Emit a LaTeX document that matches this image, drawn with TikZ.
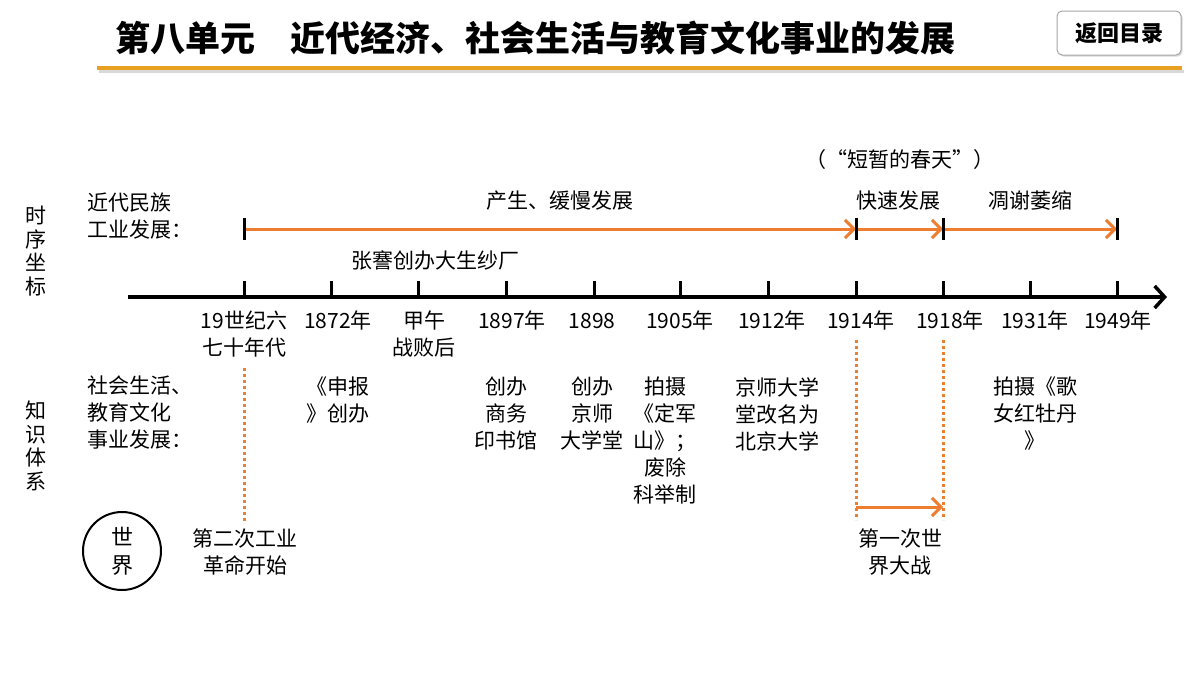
\documentclass[tikz,border=0pt]{standalone}
\usepackage{fontspec}
\setmainfont{Noto Sans CJK SC}
\usetikzlibrary{arrows.meta,shadows}
\definecolor{oline}{RGB}{237,125,49}
\definecolor{gold}{RGB}{232,160,32}
\tikzset{
  txt/.style={font=\fontsize{21}{27}\selectfont, inner sep=0pt, align=center, text=black},
  oarrow/.style={oline, line width=3pt, -{Straight Barb[length=9pt,width=18pt,line width=3pt]}},
  odot/.style={oline, line width=3pt, dash pattern=on 3pt off 3pt},
  tick/.style={black, line width=3pt},
}
\begin{document}
\begin{tikzpicture}[x=1pt,y=-1pt]
\useasboundingbox[fill=white] (0,0) rectangle (1200,675);
% title
\node[anchor=west, inner sep=0pt, font=\fontsize{35}{40}\selectfont\bfseries] (title) at (115,38) {第八单元\hspace{1em}近代经济、社会生活与教育文化事业的发展};
\fill[black!15] (99,70) rectangle (1184,73);
\draw[gold, line width=4pt] (97,68) -- (1182,68);
\node[draw=black!35, line width=1pt, rounded corners=5pt, minimum width=124pt, minimum height=44pt, fill=white, drop shadow={shadow xshift=1.5pt, shadow yshift=-1.5pt, opacity=0.3}, font=\fontsize{22}{24}\selectfont\bfseries] (back) at (1119,33) {返回目录};
% side labels
\node[txt, font=\fontsize{21}{23.5}\selectfont] (sx) at (36,251) {时\\序\\坐\\标};
\node[txt, font=\fontsize{21}{23.5}\selectfont] (zs) at (36,446) {知\\识\\体\\系};
\node[txt, align=left, anchor=north west] (gy) at (87,193) {近代民族\\工业发展：};
\node[txt, align=left, anchor=north west] (sh) at (87,376) {社会生活、\\教育文化\\事业发展：};
% main axis
\coordinate (a0) at (128,297);
\coordinate (a1) at (1167,297);
\draw[black, line width=4pt, -{Straight Barb[length=10pt,width=22pt,line width=3.5pt]}] (a0) -- (a1);
\foreach \n/\x in {t1/244,t2/331,t3/418,t4/506,t5/594,t6/680,t7/768,t8/856,t9/943,t10/1030,t11/1117}{
  \coordinate (\n) at (\x,297);
  \draw[tick] (\x,281) -- (\n);
}
% year labels
\node[txt, anchor=north] (y1) at (244,311) {19世纪六\\七十年代};
\node[txt, anchor=north] (y2) at (338,311) {1872年};
\node[txt, anchor=north] (y3) at (424,311) {甲午\\战败后};
\node[txt, anchor=north] (y4) at (512,311) {1897年};
\node[txt, anchor=north] (y5) at (592,311) {1898\vphantom{年}};
\node[txt, anchor=north] (y6) at (680,311) {1905年};
\node[txt, anchor=north] (y7) at (772,311) {1912年};
\node[txt, anchor=north] (y8) at (861,311) {1914年};
\node[txt, anchor=north] (y9) at (950,311) {1918年};
\node[txt, anchor=north] (y10) at (1035,311) {1931年};
\node[txt, anchor=north] (y11) at (1118,311) {1949年};
% industry line
\coordinate (u1) at (244,229);
\coordinate (u2) at (856,229);
\coordinate (u3) at (943,229);
\coordinate (u4) at (1117,229);
\draw[oarrow] (u1) -- (u2);
\draw[oarrow] (u2) -- (u3);
\draw[oarrow] (u3) -- (u4);
\foreach \c in {u1,u2,u3,u4}{ \draw[tick] ([yshift=-11pt]\c) -- ([yshift=11pt]\c); }
\node[txt] (l1) at (560,201) {产生、缓慢发展};
\node[txt] (l2) at (898,201) {快速发展};
\node[txt] (l3) at (1030,201) {凋谢萎缩};
\node[txt] (l4) at (900,160) {（“短暂的春天”）};
\node[txt] (l5) at (435,260) {张謇创办大生纱厂};
% knowledge items
\node[txt, anchor=north] (k1) at (338,377) {《申报\\》创办};
\node[txt, anchor=north] (k2) at (506,377) {创办\\商务\\印书馆};
\node[txt, anchor=north] (k3) at (592,377) {创办\\京师\\大学堂};
\node[txt, anchor=north] (k4) at (665,377) {拍摄\\《定军\\山》；\\废除\\科举制};
\node[txt, anchor=north] (k5) at (777,377) {京师大学\\堂改名为\\北京大学};
\node[txt, anchor=north] (k6) at (1035,377) {拍摄《歌\\女红牡丹\\》};
% dotted lines
\coordinate (d1a) at (244,368); \coordinate (d1b) at (244,522);
\coordinate (d2a) at (856,340); \coordinate (d2b) at (856,520);
\coordinate (d3a) at (943,340); \coordinate (d3b) at (943,520);
\draw[odot] (d1a) -- (d1b);
\draw[odot] (d2a) -- (d2b);
\draw[odot] (d3a) -- (d3b);
\coordinate (w1) at (856,507);
\coordinate (w2) at (943,507);
\draw[oarrow] (w1) -- (w2);
\node[txt, anchor=north] (ww) at (900,529) {第一次世\\界大战};
% world circle
\node[draw=black, line width=2pt, circle, minimum size=78pt, inner sep=0pt, font=\fontsize{22}{28}\selectfont, align=center] (world) at (122,551) {世\\界};
\node[txt, anchor=north] (ir) at (245,529) {第二次工业\\革命开始};
\end{tikzpicture}
\end{document}
